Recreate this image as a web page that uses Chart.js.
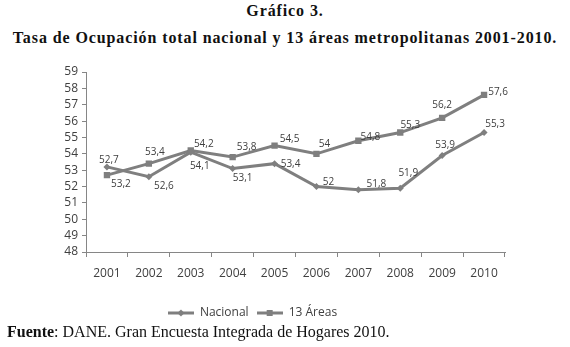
<!DOCTYPE html>
<html lang="es">
<head>
<meta charset="utf-8">
<title>Gráfico 3</title>
<script src="https://cdn.jsdelivr.net/npm/chart.js@4/dist/chart.umd.min.js"></script>
<style>
    body { margin: 0; background: #fff; width: 570px; height: 347px; overflow: hidden; position: relative; }
    .titulo { position: absolute; left: 0; width: 570px; text-align: center; font-family: "Liberation Serif", serif; font-weight: bold; font-size: 16px; letter-spacing: 0.9px; color: #111; }
    #t1 { top: 2px; }
    #t2 { top: 29px; }
    #chartBox { position: absolute; left: 0; top: 55px; width: 570px; height: 278px; }
    #fuente { position: absolute; left: 7px; top: 323px; font-family: "Liberation Serif", serif; font-size: 16px; color: #111; white-space: nowrap; }
</style>
</head>
<body>
<div class="titulo" id="t1">Gráfico 3.</div>
<div class="titulo" id="t2">Tasa de Ocupación total nacional y 13 áreas metropolitanas 2001-2010.</div>
<div id="chartBox"><canvas id="ocupacionChart"></canvas></div>
<div id="fuente"><b>Fuente</b>: DANE. Gran Encuesta Integrada de Hogares 2010.</div>
<script>
const years = ['2001', '2002', '2003', '2004', '2005', '2006', '2007', '2008', '2009', '2010'];
const nacional = [53.2, 52.6, 54.1, 53.1, 53.4, 52, 51.8, 51.9, 53.9, 55.3];
const areas13 = [52.7, 53.4, 54.2, 53.8, 54.5, 54, 54.8, 55.3, 56.2, 57.6];
const yMin = 48;
const yMax = 59;
const yStep = 1;

// where each value label sits relative to its point (px)
const nacionalLabelDx = [14, 15, 9, 10, 16, 12, 18, 8, 3, 11];
const nacionalLabelDy = [17, 9, 14, 10, 1, -4, -6, -15, -10, -8];
const areasLabelDx = [2, 6, 13, 14, 15, 8, 12, 10, 0, 14];
const areasLabelDy = [-15, -11, -6, -10, -6, -10, -4, -7, -13, -3];

const lineGrey = '#7f7f7f';
const textGrey = '#404040';

function legendSample(style) {
    const c = document.createElement('canvas');
    c.width = 26;
    c.height = 10;
    const g = c.getContext('2d');
    g.strokeStyle = lineGrey;
    g.fillStyle = lineGrey;
    g.lineWidth = 3;
    g.beginPath();
    g.moveTo(0, 5);
    g.lineTo(26, 5);
    g.stroke();
    g.beginPath();
    if (style === 'rect') {
        g.rect(10, 2, 6, 6);
    } else {
        g.moveTo(13, 1.5); g.lineTo(16.5, 5); g.lineTo(13, 8.5); g.lineTo(9.5, 5);
        g.closePath();
    }
    g.fill();
    return c;
}

const valueLabels = {
    id: 'valueLabels',
    afterDatasetsDraw(chart) {
        const ctx = chart.ctx;
        ctx.save();
        ctx.font = '10px "Liberation Sans Narrow", "Open Sans", sans-serif';
        ctx.fillStyle = textGrey;
        ctx.textAlign = 'center';
        ctx.textBaseline = 'middle';
        chart.data.datasets.forEach((ds, i) => {
            chart.getDatasetMeta(i).data.forEach((pt, j) => {
                const txt = String(ds.data[j]).replace('.', ',');
                ctx.fillText(txt, pt.x + ds.labelDx[j], pt.y + ds.labelDy[j]);
            });
        });
        ctx.restore();
    }
};

new Chart(document.getElementById('ocupacionChart'), {
    type: 'line',
    data: {
        labels: years,
        datasets: [{
            label: 'Nacional',
            data: nacional,
            labelDx: nacionalLabelDx,
            labelDy: nacionalLabelDy,
            borderColor: lineGrey,
            backgroundColor: lineGrey,
            borderWidth: 3,
            pointStyle: 'rectRot',
            pointRadius: 3.5,
            pointBorderWidth: 0,
            tension: 0,
            legendImg: legendSample('rectRot')
        }, {
            label: '13 Áreas',
            data: areas13,
            labelDx: areasLabelDx,
            labelDy: areasLabelDy,
            borderColor: lineGrey,
            backgroundColor: lineGrey,
            borderWidth: 3,
            pointStyle: 'rect',
            pointRadius: 4.5,
            pointBorderWidth: 0,
            tension: 0,
            legendImg: legendSample('rect')
        }]
    },
    options: {
        responsive: true,
        maintainAspectRatio: false,
        animation: false,
        layout: { padding: { top: 17, right: 65, left: 0, bottom: 4 } },
        plugins: {
            tooltip: { enabled: false },
            legend: {
                position: 'bottom',
                labels: {
                    usePointStyle: true,
                    pointStyleWidth: 26,
                    color: textGrey,
                    font: { family: '"Open Sans", sans-serif', size: 12 },
                    padding: 8,
                    generateLabels(chart) {
                        return chart.data.datasets.map((ds, i) => ({
                            text: ds.label,
                            pointStyle: ds.legendImg,
                            fontColor: textGrey,
                            lineWidth: 0,
                            datasetIndex: i
                        }));
                    }
                }
            }
        },
        scales: {
            x: {
                offset: true,
                grid: { offset: true, drawOnChartArea: false, drawTicks: true, tickLength: 5, color: '#868686' },
                border: { color: '#868686' },
                ticks: { color: textGrey, font: { family: '"Open Sans", sans-serif', size: 12 }, padding: 9, maxRotation: 0 },
                afterFit(scale) { scale.height = 47; }
            },
            y: {
                min: yMin,
                max: yMax,
                grid: { drawOnChartArea: false, drawTicks: true, tickLength: 4, color: '#868686' },
                border: { color: '#868686' },
                ticks: { stepSize: yStep, autoSkip: false, color: textGrey, font: { family: '"Open Sans", sans-serif', size: 12 }, padding: 4 },
                afterFit(scale) { scale.width = 86; }
            }
        }
    },
    plugins: [valueLabels]
});
</script>
</body>
</html>
